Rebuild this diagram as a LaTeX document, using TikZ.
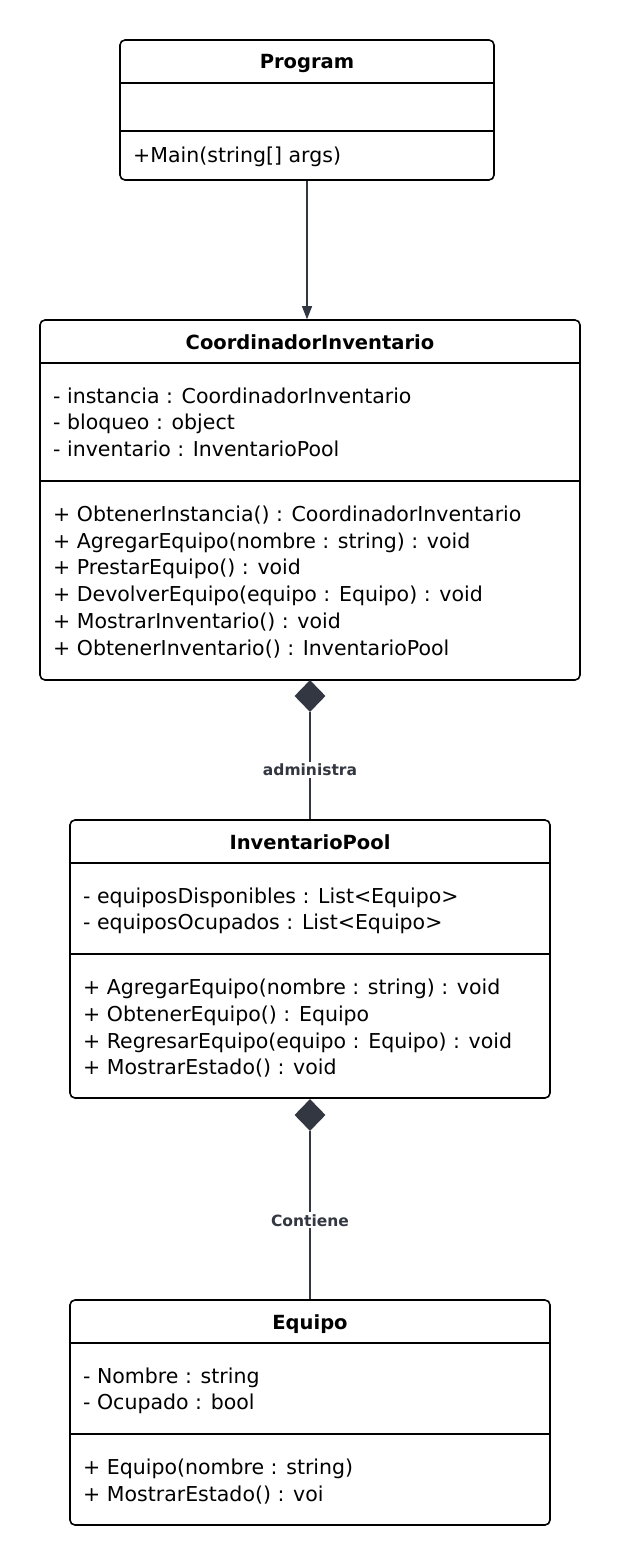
\documentclass[tikz,border=0pt]{standalone}
\usepackage{fontspec}
\setmainfont{DejaVu Sans}
\usetikzlibrary{arrows.meta,shapes.geometric}
\definecolor{dg}{HTML}{333741}
\begin{document}
\begin{tikzpicture}[x=1pt,y=-1pt,
  cls/.style={draw=black,line width=1.6pt,rounded corners=5pt,inner sep=0pt,fill=white},
  sep/.style={draw=black,line width=1.6pt},
  txt/.style={anchor=base west,inner sep=0pt,font=\fontsize{20.5}{23}\selectfont},
  ttl/.style={anchor=base,inner sep=0pt,font=\bfseries\fontsize{19.5}{23}\selectfont},
  conn/.style={draw=dg,line width=1.2pt},
  lbl/.style={fill=white,inner sep=2pt,text=dg,font=\bfseries\fontsize{15.5}{18}\selectfont},
  comp/.style={diamond,fill=dg,inner sep=0pt,minimum width=31pt,minimum height=32pt}
]
\useasboundingbox (0,0) rectangle (620,1565);
\fill[white] (0,0) rectangle (620,1565);

% Program
\node[cls,minimum width=374pt,minimum height=140pt] (prog) at (307,110) {};
\draw[sep] (120,83) -- (494,83);
\draw[sep] (120,131) -- (494,131);
\node[ttl] (progt) at (307,69) {Program};
\node[txt] (progm) at (133,163) {+Main(string[] args)};

% CoordinadorInventario
\node[cls,minimum width=540pt,minimum height=360pt] (coord) at (310,500) {};
\draw[sep] (40,363) -- (580,363);
\draw[sep] (40,481) -- (580,481);
\node[ttl] (coordt) at (310,349) {CoordinadorInventario};
\node[txt] (ca1) at (53,403) {- instancia : CoordinadorInventario};
\node[txt] (ca2) at (53,429) {- bloqueo : object};
\node[txt] (ca3) at (53,456) {- inventario : InventarioPool};
\node[txt] (cm1) at (53,521) {+ ObtenerInstancia() : CoordinadorInventario};
\node[txt] (cm2) at (53,548) {+ AgregarEquipo(nombre : string) : void};
\node[txt] (cm3) at (53,574) {+ PrestarEquipo() : void};
\node[txt] (cm4) at (53,601) {+ DevolverEquipo(equipo : Equipo) : void};
\node[txt] (cm5) at (53,628) {+ MostrarInventario() : void};
\node[txt] (cm6) at (53,655) {+ ObtenerInventario() : InventarioPool};

% InventarioPool
\node[cls,minimum width=480pt,minimum height=278pt] (pool) at (310,959) {};
\draw[sep] (70,863) -- (550,863);
\draw[sep] (70,954) -- (550,954);
\node[ttl] (poolt) at (310,849) {InventarioPool};
\node[txt] (pa1) at (83,903) {- equiposDisponibles : List<Equipo>};
\node[txt] (pa2) at (83,929) {- equiposOcupados : List<Equipo>};
\node[txt] (pm1) at (83,994) {+ AgregarEquipo(nombre : string) : void};
\node[txt] (pm2) at (83,1021) {+ ObtenerEquipo() : Equipo};
\node[txt] (pm3) at (83,1048) {+ RegresarEquipo(equipo : Equipo) : void};
\node[txt] (pm4) at (83,1074) {+ MostrarEstado() : void};

% Equipo
\node[cls,minimum width=480pt,minimum height=225pt] (equipo) at (310,1412.5) {};
\draw[sep] (70,1343) -- (550,1343);
\draw[sep] (70,1434) -- (550,1434);
\node[ttl] (equipot) at (310,1329) {Equipo};
\node[txt] (ea1) at (83,1383) {- Nombre : string};
\node[txt] (ea2) at (83,1409) {- Ocupado : bool};
\node[txt] (em1) at (83,1474) {+ Equipo(nombre : string)};
\node[txt] (em2) at (83,1501) {+ MostrarEstado() : voi};

% connectors
\draw[conn,-{Triangle[length=13pt,width=10pt]}] (prog.south) -- (prog.south |- coord.north);
\node[comp] (d1) at (310,696) {};
\node[comp] (d2) at (310,1115) {};
\draw[conn] (d1.south) -- (pool.north) node[lbl,pos=0.54] {administra};
\draw[conn] (d2.south) -- (equipo.north) node[lbl,pos=0.53] {Contiene};
\end{tikzpicture}
\end{document}
